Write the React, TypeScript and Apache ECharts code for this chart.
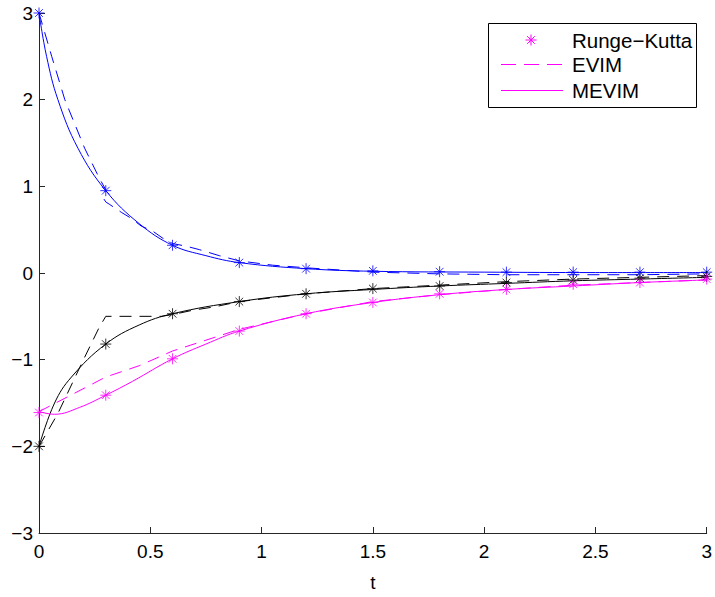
import React, { useEffect, useRef } from "react";
import * as echarts from "echarts";

// Runge-Kutta sample points
const rkT = [0, 0.3, 0.6, 0.9, 1.2, 1.5, 1.8, 2.1, 2.4, 2.7, 3.0];
const rkBlue = [3, 0.95, 0.32, 0.12, 0.05, 0.025, 0.015, 0.01, 0.01, 0.01, 0.01];
const rkBlack = [-2, -0.82, -0.47, -0.33, -0.24, -0.18, -0.15, -0.11, -0.08, -0.06, -0.04];
const rkMagenta = [-1.61, -1.41, -0.99, -0.67, -0.47, -0.34, -0.24, -0.19, -0.13, -0.11, -0.07];

// MEVIM (solid) curves
const mevBlueT = [0, 0.034, 0.085, 0.175, 0.3, 0.45, 0.6, 0.75, 0.9, 1.2, 1.5, 2.0, 2.5, 3.0];
const mevBlueY = [3, 2.5, 2.0, 1.44, 0.95, 0.57, 0.32, 0.2, 0.12, 0.05, 0.02, 0.01, 0.005, 0.005];
const mevBlackT = [0, 0.07, 0.146, 0.3, 0.45, 0.6, 0.9, 1.2, 1.5, 1.8, 2.1, 2.4, 2.7, 3.0];
const mevBlackY = [-2, -1.5, -1.2, -0.82, -0.6, -0.47, -0.33, -0.24, -0.19, -0.15, -0.12, -0.09, -0.07, -0.05];
const mevMagT = [0, 0.07, 0.183, 0.3, 0.42, 0.6, 0.75, 0.9, 1.2, 1.5, 1.8, 2.1, 2.4, 2.7, 3.0];
const mevMagY = [-1.6, -1.63, -1.55, -1.41, -1.25, -0.99, -0.82, -0.67, -0.47, -0.34, -0.25, -0.19, -0.15, -0.11, -0.08];

// EVIM (dashed) curves
const evBlueT = [0, 0.057, 0.116, 0.205, 0.27, 0.3, 0.285, 0.3, 0.318, 0.37, 0.415, 0.46, 0.507, 0.557, 0.6, 0.66, 0.72, 0.81, 0.9, 1.05, 1.2, 1.5, 1.8, 2.1, 2.4, 2.7, 3.0];
const evBlueY = [3, 2.5, 2.0, 1.44, 1.1, 0.96, 0.88, 0.82, 0.79, 0.7, 0.63, 0.54, 0.49, 0.4, 0.34, 0.31, 0.27, 0.2, 0.14, 0.09, 0.06, 0.01, -0.01, -0.02, -0.02, -0.02, -0.01];
const evBlackT = [0, 0.085, 0.196, 0.27, 0.3, 0.55, 0.6, 0.69, 0.79, 0.9, 1.2, 1.5, 1.8, 2.1, 2.4, 2.7, 3.0];
const evBlackY = [-2, -1.62, -1.02, -0.63, -0.5, -0.5, -0.48, -0.43, -0.39, -0.33, -0.24, -0.18, -0.14, -0.1, -0.07, -0.05, -0.03];
const evMagT = [0, 0.3, 0.45, 0.6, 0.9, 1.2, 1.5, 1.8, 2.1, 2.4, 2.7, 3.0];
const evMagY = [-1.6, -1.2, -1.07, -0.9, -0.65, -0.47, -0.33, -0.25, -0.19, -0.14, -0.11, -0.08];

const xTicks = [0, 0.5, 1, 1.5, 2, 2.5, 3];
const yTicks = [-3, -2, -1, 0, 1, 2, 3];

const BLUE = "#0000ff";
const BLACK = "#000000";
const MAGENTA = "#ff00ff";
const FONT = "'Liberation Sans', Arial, Helvetica, sans-serif";

const STAR = "path://M5,0L5,10M0,5L10,5M1.5,1.5L8.5,8.5M1.5,8.5L8.5,1.5";

const zip = (xs: number[], ys: number[]) => xs.map((x, i) => [x, ys[i]]);

function fmt(v: number) {
  const s = String(Math.abs(v));
  return v < 0 ? "\u2212" + s : s;
}

export default function App() {
  const ref = useRef<HTMLDivElement>(null);
  useEffect(() => {
    if (!ref.current) return;
    const chart = echarts.init(ref.current, undefined, { renderer: "svg" });

    const lineSeries = (name: string, data: number[][], color: string, dashed: boolean, smooth: boolean) => ({
      name,
      type: "line",
      data,
      showSymbol: false,
      symbol: "none",
      smooth: smooth ? 0.4 : false,
      lineStyle: { color, width: 1, type: dashed ? [12, 8] : "solid" },
      z: 2,
    });
    const rkSeries = (name: string, ys: number[], color: string) => ({
      name,
      type: "scatter",
      data: zip(rkT, ys),
      symbol: STAR,
      symbolSize: 11,
      itemStyle: { color, borderColor: color, borderWidth: 1 },
      z: 3,
    });

    const starLines = (cx: number, cy: number, r: number, color: string) => {
      const d = r * 0.7;
      const segs = [
        [cx - r, cy, cx + r, cy],
        [cx, cy - r, cx, cy + r],
        [cx - d, cy - d, cx + d, cy + d],
        [cx - d, cy + d, cx + d, cy - d],
      ];
      return segs.map((s) => ({
        type: "line",
        shape: { x1: s[0], y1: s[1], x2: s[2], y2: s[3] },
        style: { stroke: color, lineWidth: 1 },
      }));
    };

    chart.setOption({
      animation: false,
      backgroundColor: "#ffffff",
      grid: { left: 39, right: 6, top: 13, bottom: 56, containLabel: false },
      xAxis: {
        type: "value",
        min: 0,
        max: 3,
        interval: 0.5,
        name: "t",
        nameLocation: "middle",
        nameGap: 40,
        nameTextStyle: { color: "#000", fontSize: 19, fontFamily: FONT },
        axisLine: { show: true, onZero: false, lineStyle: { color: "#262626", width: 1 } },
        axisTick: { show: true, inside: true, length: 6, lineStyle: { color: "#262626" } },
        axisLabel: { color: "#000", fontSize: 19, fontFamily: FONT, margin: 9, formatter: (v: number) => (xTicks.includes(v) ? fmt(v) : "") },
        splitLine: { show: false },
      },
      yAxis: {
        type: "value",
        min: -3,
        max: 3,
        interval: 1,
        axisLine: { show: true, onZero: false, lineStyle: { color: "#262626", width: 1 } },
        axisTick: { show: true, inside: true, length: 6, lineStyle: { color: "#262626" } },
        axisLabel: { color: "#000", fontSize: 19, fontFamily: FONT, margin: 6, formatter: (v: number) => (yTicks.includes(v) ? fmt(v) : "") },
        splitLine: { show: false },
      },
      series: [
        lineSeries("MEVIM blue", zip(mevBlueT, mevBlueY), BLUE, false, true),
        lineSeries("EVIM blue", zip(evBlueT, evBlueY), BLUE, true, false),
        lineSeries("MEVIM black", zip(mevBlackT, mevBlackY), BLACK, false, true),
        lineSeries("EVIM black", zip(evBlackT, evBlackY), BLACK, true, false),
        lineSeries("MEVIM", zip(mevMagT, mevMagY), MAGENTA, false, true),
        lineSeries("EVIM", zip(evMagT, evMagY), MAGENTA, true, false),
        rkSeries("Runge-Kutta blue", rkBlue, BLUE),
        rkSeries("Runge-Kutta black", rkBlack, BLACK),
        rkSeries("Runge\u2212Kutta", rkMagenta, MAGENTA),
      ],
      graphic: [
        {
          type: "group",
          z: 100,
          children: [
            {
              type: "rect",
              shape: { x: 488.5, y: 23.5, width: 208, height: 84 },
              style: { fill: "#ffffff", stroke: "#000000", lineWidth: 1 },
            },
            ...starLines(531, 40, 5.5, MAGENTA),
            {
              type: "line",
              shape: { x1: 501, y1: 64.5, x2: 563, y2: 64.5 },
              style: { stroke: MAGENTA, lineWidth: 1, lineDash: [15, 8] },
            },
            {
              type: "line",
              shape: { x1: 501, y1: 90.5, x2: 563, y2: 90.5 },
              style: { stroke: MAGENTA, lineWidth: 1 },
            },
            {
              type: "text",
              x: 572,
              y: 40,
              style: { text: "Runge\u2212Kutta", fill: "#000", fontSize: 20.5, fontFamily: FONT, verticalAlign: "middle", align: "left" },
            },
            {
              type: "text",
              x: 572,
              y: 64,
              style: { text: "EVIM", fill: "#000", fontSize: 20.5, fontFamily: FONT, verticalAlign: "middle", align: "left" },
            },
            {
              type: "text",
              x: 572,
              y: 90,
              style: { text: "MEVIM", fill: "#000", fontSize: 20.5, fontFamily: FONT, verticalAlign: "middle", align: "left" },
            },
          ],
        },
      ],
    });
    return () => chart.dispose();
  }, []);
  return <div ref={ref} style={{ width: 715, height: 597, position: "absolute", left: 0, top: 0 }} />;
}
